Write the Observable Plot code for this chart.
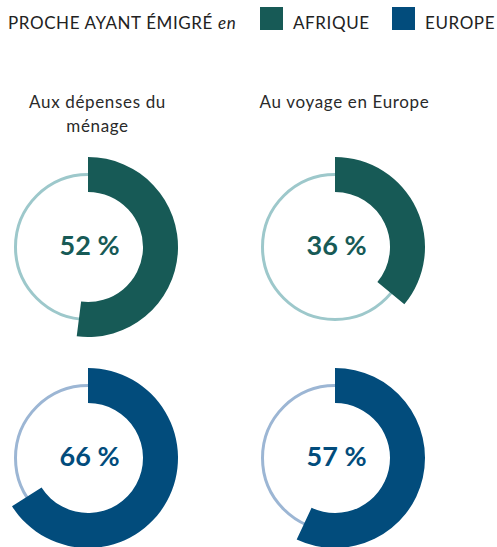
<!DOCTYPE html>
<html>
<head>
<meta charset="utf-8">
<script src="https://cdn.jsdelivr.net/npm/d3@7"></script>
<script src="https://cdn.jsdelivr.net/npm/@observablehq/plot@0.6"></script>
<style>
  html, body { margin: 0; padding: 0; background: #fff; }
  #wrap { position: relative; width: 497px; height: 547px; overflow: hidden; font-family: Lato, "Open Sans", sans-serif; }
  #legend { position: absolute; top: 0; left: 0; width: 497px; height: 40px; color: #222; font-size: 17px; letter-spacing: 0.6px; }
  #legend span.t { position: absolute; top: 12px; line-height: 22px; white-space: nowrap; }
  #legend span.sw { position: absolute; top: 7px; width: 23px; height: 23px; }
  #chart { position: absolute; top: 0; left: 0; }
  g[font-size="17"] text { letter-spacing: 0.65px; }
</style>
</head>
<body>
<div id="wrap">
  <div id="chart"></div>
  <div id="legend"></div>
</div>
<script>
// ---- data ----
const categories = ["Aux dépenses du\nménage", "Au voyage en Europe"];
const regions = ["AFRIQUE", "EUROPE"];
const afriqueValues = [52, 36];
const europeValues = [66, 57];
const legendTitle = "PROCHE AYANT ÉMIGRÉ";
const legendTitleItalic = "en";

const darkColors = {AFRIQUE: "#175a56", EUROPE: "#024c7c"};
const lightColors = {AFRIQUE: "#9dc8cb", EUROPE: "#9cb6d4"};

const table = [];
categories.forEach((c, i) => table.push({cat: c, region: "AFRIQUE", value: afriqueValues[i]}));
categories.forEach((c, i) => table.push({cat: c, region: "EUROPE", value: europeValues[i]}));

// ---- legend ----
const legend = d3.select("#legend");
legend.append("span").attr("class", "t").style("left", "8px")
  .html(`${legendTitle} <i>${legendTitleItalic}</i>`);
const swX = [260, 392], txX = [293, 425];
regions.forEach((r, i) => {
  legend.append("span").attr("class", "sw").style("left", swX[i] + "px").style("background", darkColors[r]);
  legend.append("span").attr("class", "t").style("left", txX[i] + "px").text(r);
});

// ---- donut render mark ----
function donuts(index, scales) {
  const g = d3.create("svg:g");
  const arc = d3.arc();
  for (const d of table) {
    const cx = scales.x(d.cat), cy = scales.y(d.region);
    g.append("circle")
      .attr("cx", cx).attr("cy", cy).attr("r", 72.5)
      .attr("fill", "none").attr("stroke", lightColors[d.region]).attr("stroke-width", 3);
    g.append("path")
      .attr("transform", `translate(${cx},${cy})`)
      .attr("d", arc({innerRadius: 55, outerRadius: 90, startAngle: 0, endAngle: d.value / 100 * 2 * Math.PI}))
      .attr("fill", darkColors[d.region]);
  }
  return g.node();
}

const W = 497, H = 547;
const chart = Plot.plot({
  width: W,
  height: H,
  marginLeft: 88,
  marginRight: W - 335,
  marginTop: 247,
  marginBottom: H - 458,
  style: {fontFamily: "Lato, 'Open Sans', sans-serif", background: "transparent", overflow: "hidden"},
  x: {type: "point", domain: categories, padding: 0, axis: null},
  y: {type: "point", domain: regions, padding: 0, axis: null},
  marks: [
    donuts,
    Plot.text(table, {
      x: "cat", y: "region",
      text: d => `${d.value} %`,
      fill: d => darkColors[d.region],
      fontSize: 27, fontWeight: 700,
      dx: 1, dy: -1
    }),
    Plot.text(categories, {
      x: d => d, y: () => regions[0],
      text: d => d,
      lineAnchor: "top",
      lineHeight: 1.42,
      fontSize: 17,
      fill: "#2a2a2a",
      dx: 9, dy: -157
    })
  ]
});
document.getElementById("chart").appendChild(chart);
</script>
</body>
</html>
